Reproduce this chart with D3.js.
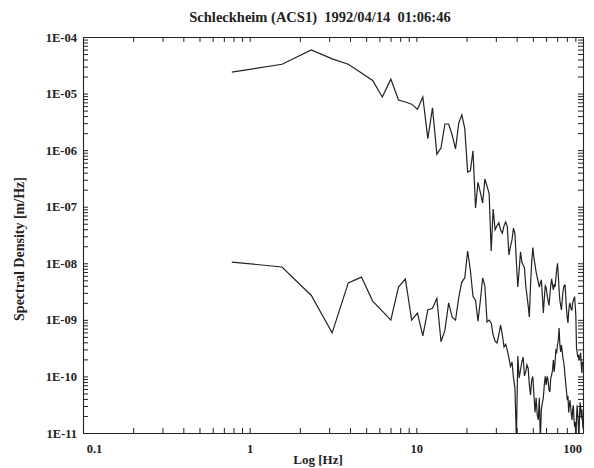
<!DOCTYPE html>
<html><head><meta charset="utf-8">
<script src="https://cdn.jsdelivr.net/npm/d3@7"></script>
<style>body{margin:0;background:#fff}svg{display:block}</style>
</head><body><svg id="c" width="594" height="468"></svg>
<script>
const title = "Schleckheim (ACS1)  1992/04/14  01:06:46";
const xLabel = "Log [Hz]";
const yLabel = "Spectral Density [m/Hz]";

const freq = [0.781,1.563,2.344,3.125,3.906,4.688,5.469,6.25,7.031,7.813,8.594,9.375,10.156,10.938,11.719,12.5,
13.281,14.063,14.844,15.625,16.406,17.188,17.969,18.75,19.531,20.313,21.094,21.875,22.656,23.438,24.219,25,
25.781,26.563,27.344,28.125,28.906,29.688,30.469,31.25,32.031,32.813,33.594,34.375,35.156,35.938,36.719,37.5,
38.281,39.063,39.844,40.625,41.406,42.188,42.969,43.75,44.531,45.313,46.094,46.875,47.656,48.438,49.219,50,
50.781,51.563,52.344,53.125,53.906,54.688,55.469,56.25,57.031,57.813,58.594,59.375,60.156,60.938,61.719,62.5,
63.281,64.063,64.844,65.625,66.406,67.188,67.969,68.75,69.531,70.313,71.094,71.875,72.656,73.438,74.219,75,
75.781,76.563,77.344,78.125,78.906,79.688,80.469,81.25,82.031,82.813,83.594,84.375,85.156,85.938,86.719,87.5,
88.281,89.063,89.844,90.625,91.406,92.188,92.969,93.75,94.531,95.313,96.094,96.875,97.656,98.438,99.219,100];

const upper = [2.4e-5,3.3e-5,5.9e-5,4.1e-5,3.3e-5,2.3e-5,1.7e-5,8.7e-6,1.8e-5,7.7e-6,7.1e-6,6.5e-6,5.3e-6,8.7e-6,1.6e-6,5.6e-6,
8.5e-7,1.1e-6,2.9e-6,2.9e-6,1.85e-6,1.05e-6,3.0e-6,4.2e-6,2.4e-6,4.1e-7,4.3e-7,9.7e-7,9.5e-8,2.7e-7,1.8e-7,1.16e-7,
3.1e-7,2.3e-7,1.7e-7,1.65e-8,9.1e-8,3.9e-8,4.6e-8,5.2e-8,3.9e-8,3.4e-8,4.6e-8,5.4e-8,4.4e-8,1.4e-8,2.0e-8,2.6e-8,
4.2e-8,3.3e-8,1.05e-8,3.8e-9,7.6e-9,1.6e-8,1.05e-8,9.3e-9,8.3e-9,4.1e-9,2.7e-9,1.8e-9,1.12e-9,4.1e-9,1.05e-8,1.9e-8,
1.24e-8,9.3e-9,7.0e-9,5.7e-9,4.7e-9,3.8e-9,4.5e-9,5.1e-9,2.7e-9,1.32e-9,2.4e-9,4.0e-9,3.7e-9,2.7e-9,2.2e-9,1.8e-9,
2.7e-9,4.1e-9,5.3e-9,4.1e-9,3.4e-9,4.3e-9,3.8e-9,5.5e-9,7.6e-9,1.0e-8,6.2e-9,3.4e-9,2.2e-9,1.8e-9,1.5e-9,2.2e-9,
3.1e-9,3.7e-9,4.1e-9,4.1e-9,2.4e-9,1.5e-9,1.08e-9,8.8e-10,1.38e-9,1.8e-9,2.0e-9,1.7e-9,1.5e-9,1.5e-9,2.0e-9,2.2e-9,
2.4e-9,2.5e-9,1.8e-9,1.12e-9,3.2e-10,2.7e-10,2.2e-10,2.4e-10,1.95e-10,2.1e-10,2.4e-10,2.6e-10,1.6e-10,1.15e-10,1.8e-10,1.6e-10];

const lower = [1.05e-8,8.6e-9,2.7e-9,5.9e-10,4.5e-9,5.7e-9,2.15e-9,1.43e-9,9.9e-10,3.8e-9,5.3e-9,9.9e-10,1.32e-9,5.2e-10,1.5e-9,1.6e-9,
2.4e-9,4.1e-10,6.6e-10,2.0e-9,1.12e-9,9.9e-10,2.5e-9,4.7e-9,5.5e-9,1.65e-8,7.6e-9,2.6e-9,2.2e-9,9.5e-10,2.2e-9,5.5e-9,
4.0e-9,9.2e-10,9.9e-10,8.8e-10,5.4e-10,4.2e-10,3.9e-10,5.4e-10,8.1e-10,5.4e-10,3.3e-10,3.7e-10,2.9e-10,2.1e-10,1.5e-10,1.8e-10,
9.4e-11,6.2e-11,7.5e-12,2.3e-10,9.4e-11,1.3e-10,1.8e-10,2.2e-10,1.02e-10,1.2e-10,1.6e-10,1.4e-10,7.1e-11,4.7e-11,8.6e-11,1.0e-10,
4.7e-11,2.3e-11,4.2e-11,2.1e-11,1.7e-11,4.2e-11,7.5e-12,2.6e-11,3.4e-11,4.2e-11,7.1e-11,1.0e-10,7.1e-11,1.0e-10,8.6e-11,5.8e-11,
5.3e-11,9.4e-11,1.06e-10,1.3e-10,1.95e-10,1.2e-10,1.8e-10,2.9e-10,2.7e-10,3.6e-10,4.4e-10,7.2e-10,3.6e-10,2.7e-10,3.6e-10,2.9e-10,
2.1e-10,1.8e-10,1.4e-10,9.8e-11,7.1e-11,5.3e-11,3.8e-11,4.5e-11,2.3e-11,3.1e-11,3.8e-11,2.8e-11,2.1e-11,1.7e-11,2.6e-11,3.1e-11,
1.8e-11,1.28e-11,1.56e-11,7.5e-12,1.8e-11,3.1e-11,2.1e-11,1.38e-11,7.5e-12,2.1e-11,3.5e-11,2.8e-11,1.8e-11,2.6e-11,1.7e-11,1.2e-11];

const xTickValues = [0.1, 1, 10, 100];
const xTickLabels = ["0.1", "1", "10", "100"];
const yTickValues = [1e-4, 1e-5, 1e-6, 1e-7, 1e-8, 1e-9, 1e-10, 1e-11];
const yTickLabels = ["1E-04", "1E-05", "1E-06", "1E-07", "1E-08", "1E-09", "1E-10", "1E-11"];

const FONT = "'Liberation Serif', 'Times New Roman', serif";
const INK = "#222";
const L = 83, R = 583, T = 37, B = 433;

const svg = d3.select("#c");
svg.append("rect").attr("width", 594).attr("height", 468).attr("fill", "#fff");

const x = d3.scaleLog().domain([0.1, 100]).range([L, R]);
const y = d3.scaleLog().domain([1e-11, 1e-4]).range([B, T]);

function minors(majors) {
  const out = [];
  const s = majors.slice().sort((a, b) => a - b);
  for (let i = 0; i < s.length - 1; i++) for (let m = 2; m <= 9; m++) out.push(s[i] * m);
  return out;
}
const xAll = xTickValues.concat(minors(xTickValues));
const yAll = yTickValues.concat(minors(yTickValues));
const xFmt = v => { const i = xTickValues.findIndex(t => Math.abs(t - v) / t < 1e-9); return i >= 0 ? xTickLabels[i] : ""; };
const yFmt = v => { const i = yTickValues.findIndex(t => Math.abs(t - v) / t < 1e-9); return i >= 0 ? yTickLabels[i] : ""; };

function style(g) {
  g.selectAll("path.domain").attr("stroke", INK).attr("stroke-width", 1.1);
  g.selectAll(".tick line").attr("stroke", INK).attr("stroke-width", 1);
  g.selectAll("text").attr("fill", INK).attr("font-family", FONT).attr("font-weight", "bold").attr("font-size", 12.5);
}

const gB = svg.append("g").attr("transform", `translate(0,${B})`)
  .call(d3.axisBottom(x).tickValues(xAll).tickFormat(xFmt).tickSizeInner(-5).tickSizeOuter(0).tickPadding(11));
style(gB);
gB.selectAll(".tick text").attr("dx", d => d === 0.1 ? 11 : (d === 100 ? -11 : 0));

const gT = svg.append("g").attr("transform", `translate(0,${T})`)
  .call(d3.axisTop(x).tickValues(xAll).tickFormat("").tickSizeInner(-5).tickSizeOuter(0));
style(gT);

const gL = svg.append("g").attr("transform", `translate(${L},0)`)
  .call(d3.axisLeft(y).tickValues(yAll).tickFormat(yFmt).tickSizeInner(-5).tickSizeOuter(0).tickPadding(6));
style(gL);

const gR = svg.append("g").attr("transform", `translate(${R},0)`)
  .call(d3.axisRight(y).tickValues(yAll).tickFormat("").tickSizeInner(-5).tickSizeOuter(0));
style(gR);

svg.append("clipPath").attr("id", "plotclip").append("rect")
  .attr("x", L).attr("y", T).attr("width", R - L).attr("height", B - T);

const line = d3.line().x(d => x(d[0])).y(d => y(d[1]));
const plot = svg.append("g").attr("clip-path", "url(#plotclip)");
[upper, lower].forEach(series => {
  plot.append("path")
    .datum(freq.map((f, i) => [f, series[i]]))
    .attr("d", line)
    .attr("fill", "none")
    .attr("stroke", INK)
    .attr("stroke-width", 1.2)
    .attr("stroke-linejoin", "miter");
});

svg.append("text").attr("x", 320).attr("y", 22)
  .attr("text-anchor", "middle").style("white-space", "pre")
  .attr("font-family", FONT).attr("font-weight", "bold").attr("font-size", 14.5).attr("fill", INK)
  .text(title);

svg.append("text").attr("x", 318).attr("y", 464)
  .attr("text-anchor", "middle")
  .attr("font-family", FONT).attr("font-weight", "bold").attr("font-size", 13).attr("fill", INK)
  .text(xLabel);

svg.append("text").attr("transform", "translate(24,249) rotate(-90)")
  .attr("text-anchor", "middle")
  .attr("font-family", FONT).attr("font-weight", "bold").attr("font-size", 14).attr("fill", INK)
  .text(yLabel);
</script>
</body></html>
